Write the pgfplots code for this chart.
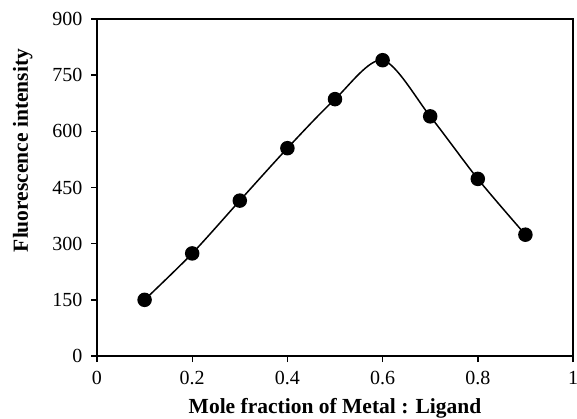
\documentclass[border=0pt]{standalone}
\usepackage{pgfplots}
\pgfplotsset{compat=1.18}
\usepackage{fontspec}
\setmainfont{Liberation Serif}
\begin{document}
\begin{tikzpicture}
\begin{axis}[
  at={(0,0)}, anchor=south west,
  scale only axis, width=476pt, height=337pt,
  xmin=0, xmax=1, ymin=0, ymax=900,
  xtick={0,0.2,0.4,0.6,0.8,1}, ytick={0,150,300,450,600,750,900},
  axis line style={line width=1.6pt},
  tick style={line width=1.4pt, black}, tick align=outside, major tick length=6pt,
  xtick pos=left, ytick pos=left,
  tick label style={font=\fontsize{20}{23}\selectfont},
  xticklabel style={yshift=-6pt},
  yticklabel style={xshift=-5pt},
  /pgf/number format/assume math mode=true,
  xlabel={Mole fraction of Metal : Ligand},
  ylabel={Fluorescence intensity},
  every axis x label/.style={at={(axis description cs:0.5,-0.172)}, anchor=base, font=\bfseries\fontsize{21.5}{24}\selectfont},
  every axis y label/.style={at={(axis description cs:-0.145,0.6098)}, anchor=base, rotate=90, font=\bfseries\fontsize{21.5}{24}\selectfont},
]
\addplot[black, line width=1.5pt, smooth, tension=0.5, mark=*, mark size=6.5pt, mark options={solid, fill=black}]
coordinates {
(0.1,150) (0.2,274) (0.3,415) (0.4,555) (0.5,686) (0.6,790) (0.7,640) (0.8,473) (0.9,324)
};
\end{axis}
\pgfresetboundingbox
\useasboundingbox (-97pt,-62pt) rectangle (480pt,356pt);
\end{tikzpicture}
\end{document}
